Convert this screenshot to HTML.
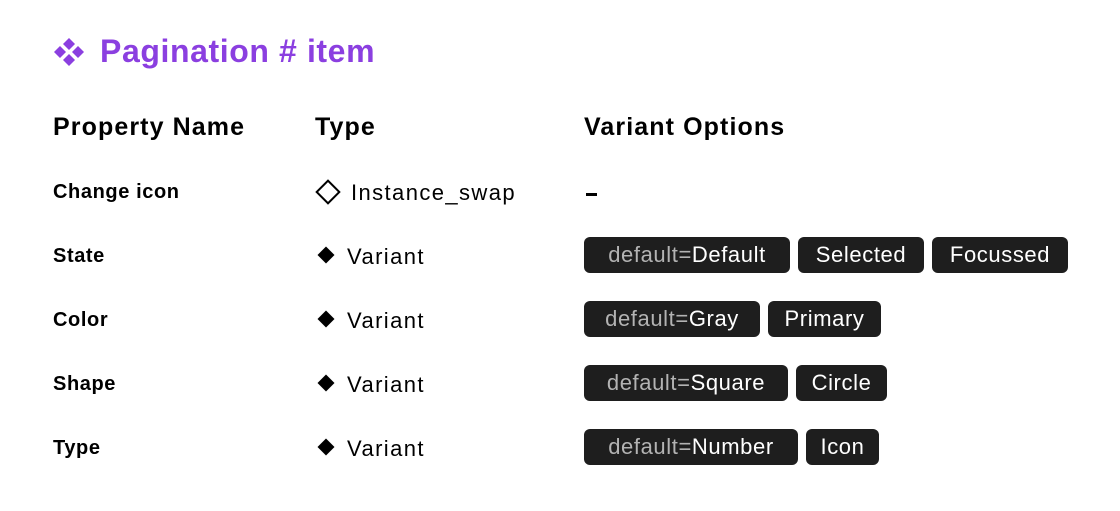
<!DOCTYPE html>
<html><head><meta charset="utf-8"><style>
body{margin:0;width:1120px;height:511px;background:#fff;font-family:"Liberation Sans",sans-serif;position:relative;overflow:hidden;color:#000}
.a{position:absolute;white-space:nowrap}
.t{left:100px;top:33px;font-size:32px;font-weight:bold;color:#8b3fe0;letter-spacing:0.6px}
.h{font-size:25px;font-weight:bold;top:113px;letter-spacing:1.1px}
.l{left:53px;font-size:20px;font-weight:bold;letter-spacing:0.6px}
.ty{font-size:22px;letter-spacing:1.4px}
.p{position:absolute;height:36px;line-height:36px;background:#1e1e1e;color:#fff;border-radius:6px;font-size:22px;text-align:center;overflow:hidden;white-space:nowrap;letter-spacing:0.6px}
.p b{font-weight:normal;color:#b3b3b3}
.d{position:absolute;width:12px;height:12px;background:#000;transform:rotate(45deg)}
</style></head><body>
<svg class="a" style="left:53px;top:37px" width="32" height="30" viewBox="0 0 32 30" fill="#8b3fe0">
<path d="M16 1l6 6-6 6-6-6z"/><path d="M16 17l6 6-6 6-6-6z"/><path d="M7 9l6 6-6 6-6-6z"/><path d="M25 9l6 6-6 6-6-6z"/></svg>
<div class="a t">Pagination # item</div>
<div class="a h" style="left:53px">Property Name</div>
<div class="a h" style="left:315px">Type</div>
<div class="a h" style="left:584px">Variant Options</div>

<div class="a l" style="top:181px">Change icon</div>
<div class="a l" style="top:245px">State</div>
<div class="a l" style="top:309px">Color</div>
<div class="a l" style="top:373px">Shape</div>
<div class="a l" style="top:437px">Type</div>

<div class="a" style="left:319px;top:183px;width:14px;height:14px;border:2px solid #000;transform:rotate(45deg)"></div>
<div class="a ty" style="left:351px;top:180px">Instance_swap</div>
<div class="a" style="left:586px;top:193px;width:11px;height:3px;background:#000"></div>

<div class="d" style="left:320px;top:249px"></div><div class="a ty" style="left:347px;top:244px">Variant</div>
<div class="d" style="left:320px;top:313px"></div><div class="a ty" style="left:347px;top:308px">Variant</div>
<div class="d" style="left:320px;top:377px"></div><div class="a ty" style="left:347px;top:372px">Variant</div>
<div class="d" style="left:320px;top:441px"></div><div class="a ty" style="left:347px;top:436px">Variant</div>

<div class="p" style="left:584px;top:237px;width:206px"><b>default=</b>Default</div>
<div class="p" style="left:798px;top:237px;width:126px">Selected</div>
<div class="p" style="left:932px;top:237px;width:136px">Focussed</div>

<div class="p" style="left:584px;top:301px;width:176px"><b>default=</b>Gray</div>
<div class="p" style="left:768px;top:301px;width:113px">Primary</div>

<div class="p" style="left:584px;top:365px;width:204px"><b>default=</b>Square</div>
<div class="p" style="left:796px;top:365px;width:91px">Circle</div>

<div class="p" style="left:584px;top:429px;width:214px"><b>default=</b>Number</div>
<div class="p" style="left:806px;top:429px;width:73px">Icon</div>
</body></html>
